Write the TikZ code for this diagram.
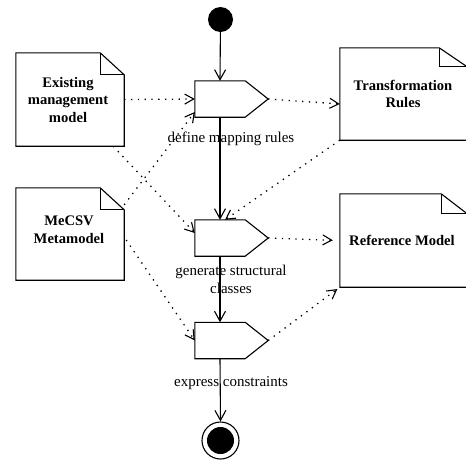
\documentclass[tikz,border=0pt]{standalone}
\usepackage{fontspec}
\setmainfont{Liberation Serif}
\usetikzlibrary{arrows.meta,calc}
\begin{document}
\begin{tikzpicture}[x=1pt,y=-1pt,
  solidline/.style={line width=1.1pt,-{Straight Barb[length=10pt,width=11pt,line width=1.1pt]}},
  dotline/.style={line width=1.3pt,dash pattern=on 1.3pt off 5.5pt,-{Straight Barb[length=9pt,width=10pt,line width=1.1pt]}},
  docbox/.style={draw=none,inner sep=0pt,font=\fontsize{14.6}{17.5}\selectfont\bfseries,align=center},
  actbox/.style={draw=none,inner sep=0pt,minimum width=50pt,minimum height=36pt},
  lbl/.style={inner sep=0pt,font=\fontsize{15}{18}\selectfont,align=center},
  outline/.style={line width=1.1pt,line join=miter}]
\useasboundingbox (0,0) rectangle (466,459);
\clip (0,0) rectangle (466,459);
\newcommand{\docoutline}[3]{%
  \draw[outline] (#1.south west) -- (#1.north west) -- ($(#1.north east)+(-#2,0)$)
    -- ($(#1.north east)+(0,#3)$) -- (#1.south east) -- cycle;
  \draw[line width=0.9pt] ($(#1.north east)+(-#2,0)$) -- ($(#1.north east)+(-#2,#3)$) -- ($(#1.north east)+(0,#3)$);}
\newcommand{\actoutline}[1]{%
  \coordinate (#1tip) at ($(#1.east)+(23,0)$);
  \draw[outline] (#1.north west) -- (#1.north east) -- (#1tip) -- (#1.south east) -- (#1.south west) -- cycle;}

% start / end
\node[circle,fill=black,minimum size=25pt,inner sep=0pt] (start) at (220.5,19.5) {};
\node[circle,draw,line width=1.1pt,minimum size=37pt,inner sep=0pt] (stop) at (220.5,440.5) {};
\node[circle,fill=black,minimum size=27pt,inner sep=0pt] (stopin) at (220.5,440.5) {};

% documents
\node[docbox,minimum width=108pt,minimum height=93pt] (emm) at (70,99.5) {};
\node[docbox] (emmtxt) at (68,99.5) {Existing\\management\\model};
\docoutline{emm}{24}{22}
\node[docbox,minimum width=108pt,minimum height=92pt] (mec) at (70,234) {};
\node[docbox] (mectxt) at (69,229.5) {MeCSV\\Metamodel};
\docoutline{mec}{24}{22}
\node[docbox,minimum width=127pt,minimum height=92pt] (tr) at (403.5,94) {};
\node[docbox] (trtxt) at (403,94) {Transformation\\Rules};
\docoutline{tr}{28}{19}
\node[docbox,minimum width=127pt,minimum height=93pt] (ref) at (403.5,240.5) {};
\node[docbox] (reftxt) at (402,240.5) {Reference Model};
\docoutline{ref}{26}{20}

% actions
\node[actbox] (a1) at (220,99) {};
\actoutline{a1}
\node[actbox] (a2) at (220,238) {};
\actoutline{a2}
\node[actbox] (a3) at (220,340.5) {};
\actoutline{a3}

% labels
\node[lbl] (l1) at (231,139) {define mapping rules};
\node[lbl] (l2) at (231,279.5) {generate structural\\classes};
\node[lbl] (l3) at (231,383) {express constraints};

% control flow
\draw[solidline] (start) -- (a1.north);
\draw[solidline] (a1.south) -- (a2.north);
\draw[solidline] (a2.south) -- (a3.north);
\draw[solidline] (a3.south) -- (stop.north);

% object flow
\coordinate (emmb) at ($(emm.south east)+(-11,0)$);
\coordinate (a2l) at ($(a2.west)+(0,-5)$);
\coordinate (mecf) at ($(mec.north east)+(0,17)$);
\coordinate (a1l) at ($(a1.west)+(0,13)$);
\coordinate (mecr) at ($(mec.east)+(2,6)$);
\coordinate (trl) at ($(tr.west)+(0,10)$);
\coordinate (a2t) at ($(a2.north)+(5,0)$);
\draw[dotline] (emm.east) -- (a1.west);
\draw[dotline] (emmb) -- (a2l);
\draw[dotline] (mecf) -- (a1l);
\draw[dotline] (mecr) -- (a3.west);
\draw[dotline] (a1tip) -- (trl);
\draw[dotline] (tr.south west) -- (a2t);
\draw[dotline,shorten >=7pt] (a2tip) -- (ref.west);
\draw[dotline,shorten >=3pt] (a3tip) -- (ref.south west);
\end{tikzpicture}
\end{document}
